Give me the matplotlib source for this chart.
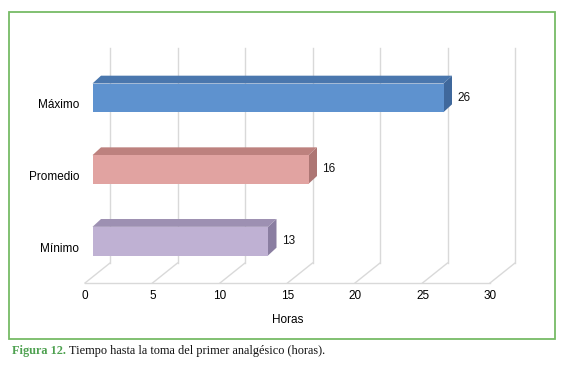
import matplotlib
matplotlib.use("Agg")
import matplotlib.pyplot as plt
from matplotlib.patches import Polygon, Rectangle

categories = ["Mínimo", "Promedio", "Máximo"]
values = [13, 16, 26]
x_ticks = [0, 5, 10, 15, 20, 25, 30]

front_colors = ["#bfb1d3", "#e1a3a1", "#5e92cf"]
top_colors = ["#9d90b2", "#bd817e", "#4a77ae"]
side_colors = ["#8a7ea1", "#ad7674", "#3f689c"]

W, H = 567, 370
fig = plt.figure(figsize=(W / 100, H / 100), dpi=100)
plt.rcParams["font.family"] = ["Liberation Sans", "DejaVu Sans"]

# front plane of the plot box in pixels (from top-left)
left_px, right_px, floor_px, top_px = 85, 490, 283, 68
ax = fig.add_axes([left_px / W, 1 - floor_px / H,
                   (right_px - left_px) / W, (floor_px - top_px) / H])
ax.set_xlim(0, 30)
ax.set_ylim(-0.5, 2.5)
for s in ax.spines.values():
    s.set_visible(False)

# depth of the 3d box in data units
DX = 25 / ((right_px - left_px) / 30)
DY = 20 / ((floor_px - top_px) / 3)

grid = "#d9d9d9"
ax.plot([0, 30], [-0.5, -0.5], color=grid, lw=1, clip_on=False)
for t in x_ticks:
    ax.plot([t, t + DX], [-0.5, -0.5 + DY], color=grid, lw=1, clip_on=False)
    ax.plot([t + DX, t + DX], [-0.5 + DY, 2.5 + DY], color=grid, lw=1, clip_on=False)

# bars
f0, fb, h = 0.30, 0.34, 0.40
for i, v in enumerate(values):
    x0 = f0 * DX
    x1 = v + f0 * DX
    yb = i - h / 2 + f0 * DY
    yt = i + h / 2 + f0 * DY
    bx, by = fb * DX, fb * DY * 1.15
    ax.add_patch(Polygon([(x1, yb), (x1, yt), (x1 + bx, yt + by), (x1 + bx, yb + by)],
                         closed=True, fc=side_colors[i], ec="none", clip_on=False, zorder=3))
    ax.add_patch(Polygon([(x0, yt), (x1, yt), (x1 + bx, yt + by), (x0 + bx, yt + by)],
                         closed=True, fc=top_colors[i], ec="none", clip_on=False, zorder=3))
    ax.add_patch(Rectangle((x0, yb), v, h, fc=front_colors[i], ec="none",
                           clip_on=False, zorder=4))
    ax.text(x1 + bx + 0.4, i + f0 * DY, str(v), ha="left", va="center",
            fontsize=8.5, color="#111111")

ax.set_xticks(x_ticks)
ax.set_xticklabels([str(t) for t in x_ticks], fontsize=8.5)
ax.set_yticks(range(len(categories)))
ax.set_yticklabels(categories, fontsize=8.5)
ax.tick_params(axis="x", length=0, pad=5)
ax.tick_params(axis="y", length=0, pad=4)
ax.set_xlabel("Horas", fontsize=8.5, labelpad=9)

# green frame
fig.patches.append(Rectangle((9 / W, 1 - 339 / H), (555 - 9) / W, (339 - 12) / H,
                             transform=fig.transFigure, fill=False,
                             ec="#76bb66", lw=1.3))

# caption
cap_y = 1 - 351 / H
t1 = fig.text(12 / W, cap_y, "Figura 12.", fontsize=8.8, family="Liberation Serif",
              fontweight="bold", color="#4ea150", va="center")
fig.canvas.draw()
bb = t1.get_window_extent()
fig.text(bb.x1 / W + 3 / W, cap_y, "Tiempo hasta la toma del primer analgésico (horas).",
         fontsize=8.8, family="Liberation Serif", color="#111111", va="center")

fig.savefig("out.png", dpi=100)
